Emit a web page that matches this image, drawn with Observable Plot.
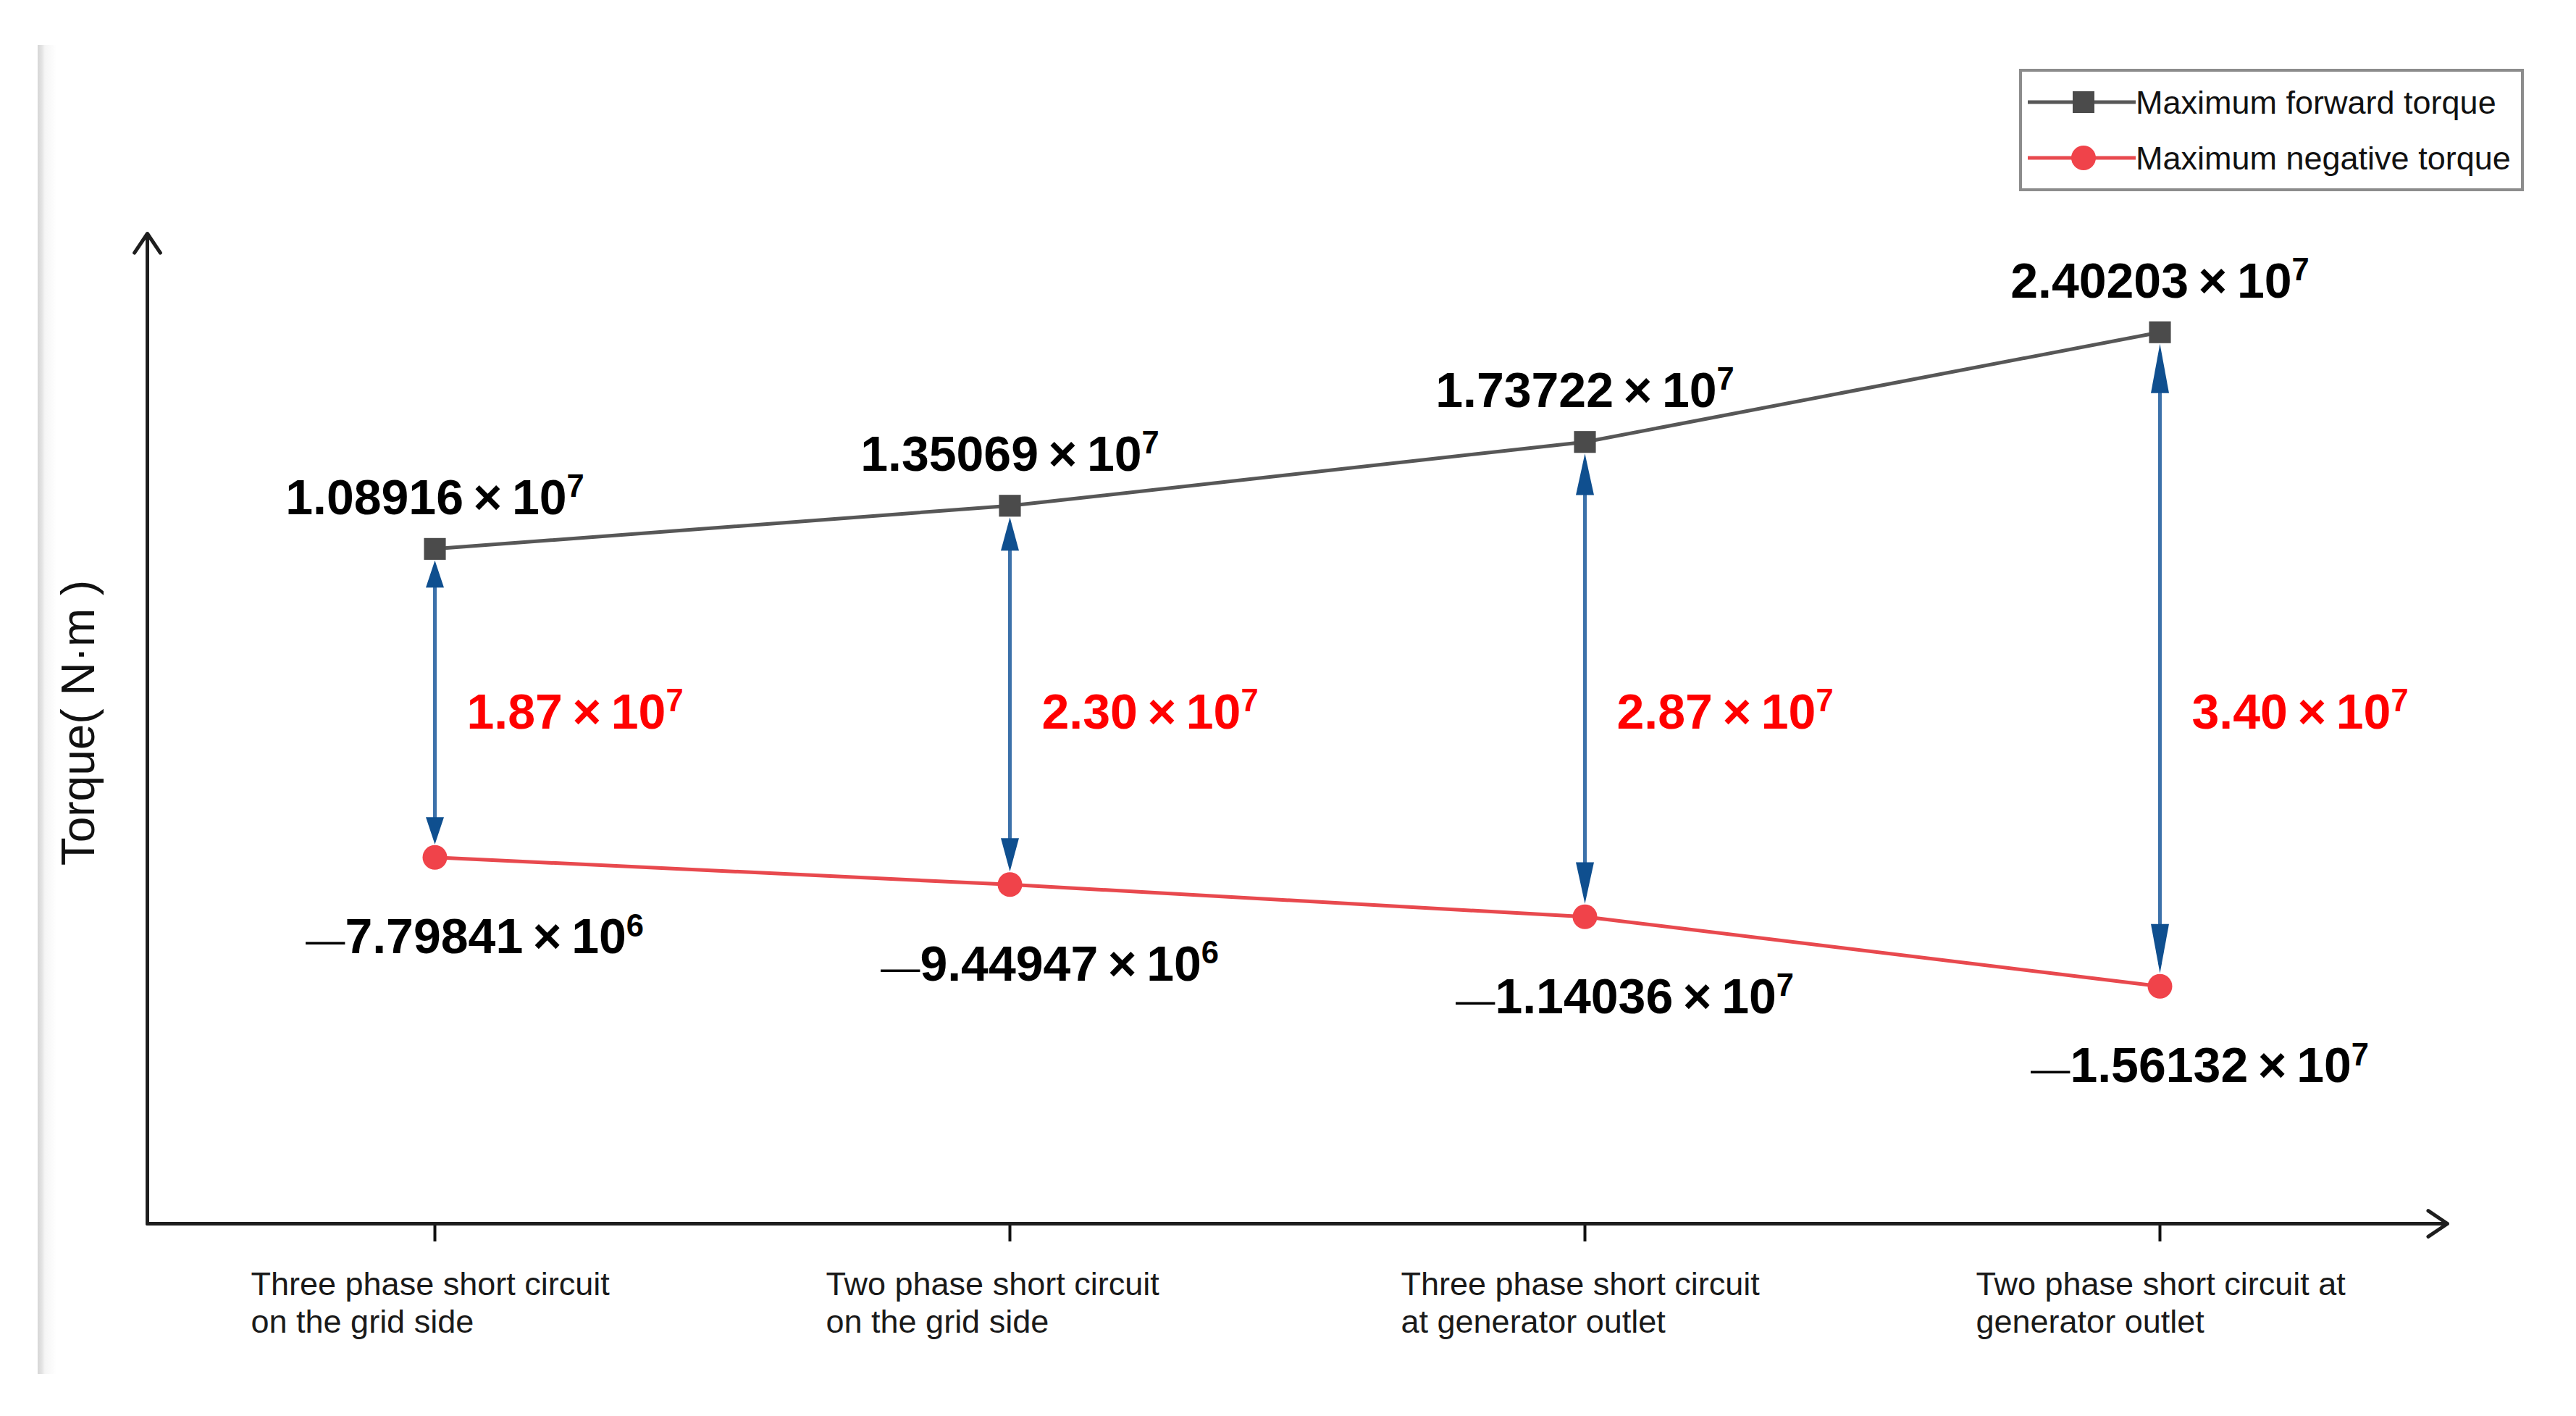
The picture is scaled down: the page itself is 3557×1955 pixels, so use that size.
<!DOCTYPE html>
<html>
<head>
<meta charset="utf-8">
<script src="https://cdn.jsdelivr.net/npm/d3@7"></script>
<script src="https://cdn.jsdelivr.net/npm/@observablehq/plot@0.6"></script>
<style>
  html, body { margin: 0; padding: 0; background: #ffffff; }
  #wrap { position: relative; width: 3557px; height: 1955px; overflow: hidden; background: #ffffff;
          font-family: "Liberation Sans", Arial, sans-serif; }
  #edge { position: absolute; left: 52px; top: 62px; width: 26px; height: 1835px;
          background: linear-gradient(to right, #d6d6d6 0px, #e4e4e4 6px, #f5f5f5 10px, #ffffff 26px); }
  #chart { position: absolute; left: 0; top: 0; }
  #legend { position: absolute; left: 2788px; top: 95px; }
</style>
</head>
<body>
<div id="wrap">
  <div id="edge"></div>
  <div id="chart"></div>
  <svg id="legend" width="697" height="169"></svg>
</div>
<script>
// ---------------- data ----------------
const categories = [
  "Three phase short circuit\non the grid side",
  "Two phase short circuit\non the grid side",
  "Three phase short circuit\nat generator outlet",
  "Two phase short circuit at\ngenerator outlet"
];
const forwardTorque  = [1.08916e7, 1.35069e7, 1.73722e7, 2.40203e7];
const negativeTorque = [-7.79841e6, -9.44947e6, -1.14036e7, -1.56132e7];
const torqueRange    = [1.87e7, 2.30e7, 2.87e7, 3.40e7];
const seriesNames    = ["Maximum forward torque", "Maximum negative torque"];
const yAxisLabel     = "Torque( N·m )";

// ---------------- helpers ----------------
const idx = categories.map((_, i) => i);
const rows = idx.map(i => ({ i, fwd: forwardTorque[i], neg: negativeTorque[i], diff: torqueRange[i] }));
const sci = (v, digits) => {
  const [m, e] = v.toExponential(digits).split("e");
  return m.replace("-", "−") + "\u2009×\u200910^" + (+e);
};
const xDomain = [-0.5, categories.length - 0.5];
const yDomain = [-3e7, 3e7];

const GREY = "#4b4b4b", RED = "#f0434a", REDLINE = "#e8494e", BLUE = "#0f4f8f";
const FONT = '"Liberation Sans", Arial, sans-serif';

// arrowhead symbols (length driven by the r channel, fixed half-width)
const headUp = { draw(ctx, size) { const L = Math.sqrt(size / Math.PI), W = 12.5;
  ctx.moveTo(0, 0); ctx.lineTo(W, L); ctx.lineTo(-W, L); ctx.closePath(); } };
const headDown = { draw(ctx, size) { const L = Math.sqrt(size / Math.PI), W = 12.5;
  ctx.moveTo(0, 0); ctx.lineTo(W, -L); ctx.lineTo(-W, -L); ctx.closePath(); } };

const chart = Plot.plot({
  width: 3557, height: 1955,
  marginLeft: 203, marginRight: 178, marginTop: 322, marginBottom: 266,
  style: { fontFamily: FONT, background: "transparent", overflow: "visible" },
  x: { type: "linear", domain: xDomain, label: null },
  y: { type: "linear", domain: yDomain, axis: null },
  r: { type: "linear", domain: [0, 1e7], range: [0, 20] },
  marks: [
    // category tick labels (text only) and tick marks
    Plot.axisX(idx, {
      tickSize: 0, tickPadding: 61, tickFormat: i => categories[i],
      textAnchor: "start", dx: -254, fontSize: 45, lineHeight: 1.16, fill: "#1a1a1a", label: null
    }),
    Plot.ruleX(idx, { x: d => d, y1: yDomain[0], y2: yDomain[0], insetBottom: -25,
      stroke: "#111", strokeWidth: 4 }),
    // axes with open arrowheads
    Plot.arrow([0], { x1: xDomain[0], y1: yDomain[0], x2: xDomain[0], y2: yDomain[1],
      stroke: "#1e1e1e", strokeWidth: 5, headLength: 9.6, headAngle: 68 }),
    Plot.arrow([0], { x1: xDomain[0], y1: yDomain[0], x2: xDomain[1], y2: yDomain[0],
      stroke: "#1e1e1e", strokeWidth: 5, headLength: 9.6, headAngle: 68 }),
    // series lines
    Plot.line(rows, { x: "i", y: "fwd", stroke: "#575757", strokeWidth: 5 }),
    Plot.line(rows, { x: "i", y: "neg", stroke: REDLINE, strokeWidth: 5 }),
    // double arrows showing the range
    Plot.ruleX(rows, { x: "i", y1: "fwd", y2: "neg", stroke: "#3c71aa", strokeWidth: 5,
      insetTop: 30, insetBottom: 30 }),
    Plot.dot(rows, { x: "i", y: "fwd", r: "diff", symbol: headUp, fill: BLUE, stroke: "none", dy: 16 }),
    Plot.dot(rows, { x: "i", y: "neg", r: "diff", symbol: headDown, fill: BLUE, stroke: "none", dy: -18 }),
    // markers
    Plot.dot(rows, { x: "i", y: "fwd", symbol: "square", r: 17, fill: GREY, stroke: "none" }),
    Plot.dot(rows, { x: "i", y: "neg", symbol: "circle", r: 17, fill: RED, stroke: "none" }),
    // value labels
    Plot.text(rows, { x: "i", y: "fwd", text: d => sci(d.fwd, 5), dy: -70,
      fontSize: 68, fontWeight: "bold", fill: "#000" }),
    Plot.text(rows, { x: "i", y: "neg", text: d => sci(d.neg, 5), dy: 111, dx: 55,
      fontSize: 68, fontWeight: "bold", fill: "#000" }),
    Plot.text(rows, { x: "i", text: d => sci(d.diff, 2), frameAnchor: "middle", dy: -22, dx: 44,
      textAnchor: "start", fontSize: 68, fontWeight: "bold", fill: "#ff0000" }),
    // y axis title
    Plot.text([yAxisLabel], { frameAnchor: "left", textAnchor: "middle", rotate: -90, dx: -94, dy: -8,
      fontSize: 64, fill: "#111" })
  ]
});
document.getElementById("chart").appendChild(chart);

// superscript exponents and thin minus dash
d3.select(chart).selectAll("text").each(function () {
  const s = this.textContent;
  const m = s.match(/^(−?)([^\^]*)\^(\d+)$/);
  if (!m) return;
  const t = d3.select(this);
  t.text(null);
  if (m[1]) t.append("tspan").attr("font-weight", "normal").attr("font-size", "0.8em").text("—");
  t.append("tspan").text(m[2]);
  t.append("tspan").attr("font-size", "0.64em").attr("dy", "-0.55em").text(m[3]);
});

// ---------------- legend ----------------
const lg = d3.select("#legend");
lg.append("rect").attr("x", 2).attr("y", 2).attr("width", 693).attr("height", 165)
  .attr("fill", "#fff").attr("stroke", "#8c8c8c").attr("stroke-width", 4);
const legendRows = [
  { name: seriesNames[0], y: 46, stroke: "#575757", fill: GREY, shape: "square" },
  { name: seriesNames[1], y: 123, stroke: REDLINE, fill: RED, shape: "circle" }
];
legendRows.forEach(r => {
  lg.append("line").attr("x1", 12).attr("x2", 161).attr("y1", r.y).attr("y2", r.y)
    .attr("stroke", r.stroke).attr("stroke-width", 5);
  if (r.shape === "square")
    lg.append("rect").attr("x", 89 - 15).attr("y", r.y - 15).attr("width", 30).attr("height", 30).attr("fill", r.fill);
  else
    lg.append("circle").attr("cx", 89).attr("cy", r.y).attr("r", 17).attr("fill", r.fill);
  lg.append("text").attr("x", 161).attr("y", r.y).attr("dy", "0.35em")
    .attr("font-family", FONT).attr("font-size", 45).attr("fill", "#111").text(r.name);
});
</script>
</body>
</html>
